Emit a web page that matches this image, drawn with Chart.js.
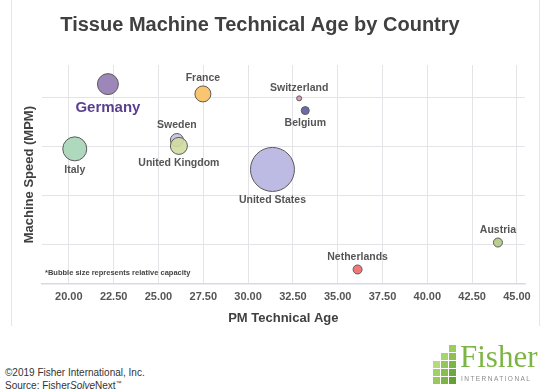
<!DOCTYPE html>
<html>
<head>
<meta charset="utf-8">
<title>Tissue Machine Technical Age by Country</title>
<script src="https://cdn.jsdelivr.net/npm/chart.js@4.4.0/dist/chart.umd.min.js"></script>
<style>
  body {
    margin: 0;
    width: 550px;
    height: 390px;
    overflow: hidden;
    position: relative;
    background: #fff;
    font-family: "Liberation Sans", Arial, sans-serif;
  }
  #panel {
    position: absolute;
    left: 11px;
    top: 0;
    width: 527px;
    height: 326px;
    border-left: 1px solid #e6e6e6;
    border-right: 1px solid #e6e6e6;
  }
  #chart { position: absolute; left: 0; top: 0; }
  #footer {
    position: absolute;
    left: 5px;
    top: 367px;
    font-size: 10px;
    line-height: 11px;
    color: #333;
  }
  #logo { position: absolute; left: 430px; top: 342px; width: 115px; height: 45px; }
  #logo .sq { position: absolute; width: 7px; height: 7px; }
  #logo .name {
    position: absolute;
    left: 30px;
    top: -3px;
    font-family: "Liberation Serif", "DejaVu Serif", serif;
    font-size: 31px;
    color: #7db544;
  }
  #logo .intl {
    position: absolute;
    left: 31px;
    top: 33px;
    font-size: 6.5px;
    letter-spacing: 1.45px;
    color: #8a8a8a;
  }
</style>
</head>
<body>
<div id="panel"></div>
<canvas id="chart" width="550" height="340"></canvas>
<div id="footer">©2019 Fisher International, Inc.<br>Source: Fisher<i>Solve</i>Next<sup style="font-size:6px">™</sup></div>
<div id="logo">
  <div class="name">Fisher</div>
  <div class="intl">INTERNATIONAL</div>
</div>
<script>
// values
const countries = ["Italy", "Germany", "France", "Sweden", "United Kingdom", "United States",
  "Switzerland", "Belgium", "Netherlands", "Austria"];
const techAge = [20.33, 22.18, 27.48, 26.03, 26.14, 31.36, 32.85, 33.19, 36.11, 43.94];
const speed = [2960, 4280, 4080, 3140, 3020, 2540, 3990, 3740, 500, 1050];
const bubbleSize = [12, 10.5, 8, 6.5, 8.5, 22, 2.5, 4, 4.5, 4.5];
const xTicks = [20, 22.5, 25, 27.5, 30, 32.5, 35, 37.5, 40, 42.5, 45];
const yTicks = [1000, 2000, 3000, 4000];

// styling, kept apart from the values
const colors = ["rgba(170,215,185,0.95)", "#9c87b8", "#f9c56e", "#cbc8e2", "rgba(208,220,160,0.9)",
  "rgba(185,182,225,0.95)", "#e49ab8", "#6c6ca8", "#f07878", "#b8cf8e"];
const labelSide = ["below", "below", "above", "above", "below", "below", "above", "below", "above", "above"];

const points = countries.map((c, i) => ({ x: techAge[i], y: speed[i], r: bubbleSize[i] }));

const textPlugin = {
  id: "bubbleLabels",
  afterDatasetsDraw(chart) {
    const ctx = chart.ctx;
    const meta = chart.getDatasetMeta(0);
    ctx.save();
    ctx.textAlign = "center";
    ctx.textBaseline = "middle";

    meta.data.forEach((pt, i) => {
      const big = countries[i] === "Germany";
      ctx.font = big ? "bold 15px 'Liberation Sans'" : "bold 10.5px 'Liberation Sans'";
      ctx.fillStyle = big ? "#5b3f8f" : "#555";
      const r = bubbleSize[i];
      const dy = labelSide[i] === "above" ? -(r + 8) : r + (big ? 13 : 9);
      ctx.fillText(countries[i], pt.x, pt.y + dy);
    });

    // chart title
    ctx.font = "bold 20px 'Liberation Sans'";
    ctx.fillStyle = "#404040";
    ctx.fillText("Tissue Machine Technical Age by Country", 260, 25);

    // footnote inside the plot
    ctx.textAlign = "left";
    ctx.font = "bold 7.5px 'Liberation Sans'";
    ctx.fillStyle = "#444";
    ctx.fillText("*Bubble size represents relative capacity", 45, 273);
    ctx.restore();
  }
};

new Chart(document.getElementById("chart"), {
  type: "bubble",
  data: {
    datasets: [{
      data: points,
      backgroundColor: colors,
      borderColor: "#5a5a5a",
      borderWidth: 1,
    }],
  },
  options: {
    responsive: false,
    animation: false,
    layout: { padding: { top: 65, left: 18, right: 25, bottom: 10 } },
    plugins: {
      legend: { display: false },
      tooltip: { enabled: false },
    },
    scales: {
      x: {
        type: "linear",
        min: 18.48,
        max: 45.45,
        afterBuildTicks: (scale) => { scale.ticks = xTicks.map((v) => ({ value: v })); },
        grid: { color: "#e4e4e8", drawTicks: false },
        border: { display: true, color: "#d8d8e8", width: 1.5 },
        ticks: {
          padding: 6,
          color: "#555",
          font: { family: "Liberation Sans", size: 11, weight: "bold" },
          callback: (v) => Number(v).toFixed(2),
        },
        title: {
          display: true,
          text: "PM Technical Age",
          color: "#404040",
          font: { family: "Liberation Sans", size: 13, weight: "bold" },
          padding: { top: 1, bottom: 4 },
        },
      },
      y: {
        type: "linear",
        min: 200,
        max: 4670,
        afterBuildTicks: (scale) => { scale.ticks = yTicks.map((v) => ({ value: v })); },
        grid: { color: "#e4e4e8", drawTicks: false },
        border: { display: false },
        ticks: { display: false },
        title: {
          display: true,
          text: "Machine Speed (MPM)",
          color: "#404040",
          font: { family: "Liberation Sans", size: 13, weight: "bold" },
          padding: { top: 4, bottom: 4 },
        },
      },
    },
  },
  plugins: [textPlugin],
});

// small stepped block icon of the logo
const logo = document.getElementById("logo");
const cells = [
  [19, 3, "#9ccc5e"], [19, 11, "#8cc152"], [11, 11, "#a8d46e"],
  [19, 19, "#7db544"], [11, 19, "#94c65a"], [3, 19, "#b4da7c"],
  [19, 27, "#6fa83a"], [11, 27, "#86bd4c"], [3, 27, "#a2cf68"],
  [19, 35, "#65a032"], [11, 35, "#7db544"], [3, 35, "#98c95e"],
];
cells.forEach(([x, y, c]) => {
  const d = document.createElement("div");
  d.className = "sq";
  d.style.left = x + "px";
  d.style.top = y + "px";
  d.style.background = c;
  logo.appendChild(d);
});
</script>
</body>
</html>
